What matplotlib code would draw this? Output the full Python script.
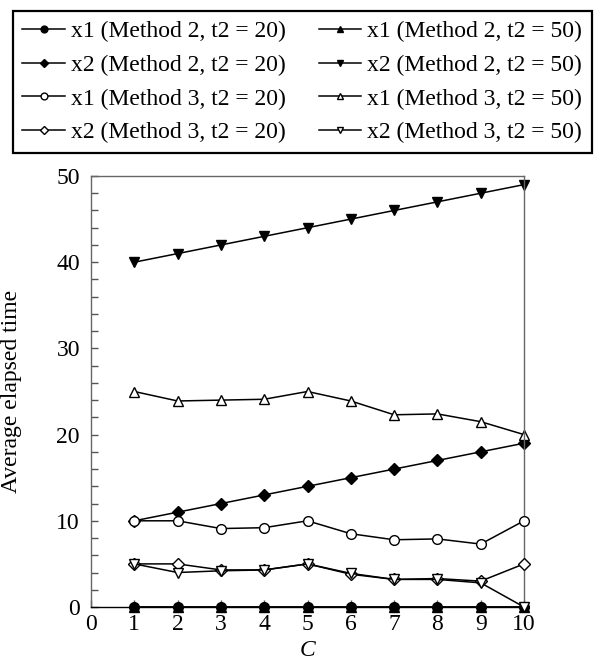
import numpy as np
import matplotlib.pyplot as plt

# =========================
# Data
# =========================
C = [1, 2, 3, 4, 5, 6, 7, 8, 9, 10]

x1_m2_t20 = [0, 0, 0, 0, 0, 0, 0, 0, 0, 0]
x2_m2_t20 = [10, 11, 12, 13, 14, 15, 16, 17, 18, 19]
x1_m3_t20 = [10, 10, 9.1, 9.2, 10, 8.5, 7.8, 7.9, 7.3, 10]
x2_m3_t20 = [5, 5, 4.3, 4.3, 5, 3.8, 3.2, 3.3, 3.0, 5]

x1_m2_t50 = [0, 0, 0, 0, 0, 0, 0, 0, 0, 0]
x2_m2_t50 = [40, 41, 42, 43, 44, 45, 46, 47, 48, 49]
x1_m3_t50 = [25, 23.9, 24.0, 24.1, 25, 23.9, 22.3, 22.4, 21.5, 20]
x2_m3_t50 = [5, 4.0, 4.2, 4.3, 5, 3.9, 3.2, 3.2, 2.8, 0]

labels = [
    "x1 (Method 2, t2 = 20)",
    "x2 (Method 2, t2 = 20)",
    "x1 (Method 3, t2 = 20)",
    "x2 (Method 3, t2 = 20)",
    "x1 (Method 2, t2 = 50)",
    "x2 (Method 2, t2 = 50)",
    "x1 (Method 3, t2 = 50)",
    "x2 (Method 3, t2 = 50)",
]

plt.rcParams['font.family'] = ['Liberation Serif', 'DejaVu Serif']
plt.rcParams['font.size'] = 17

fig = plt.figure(figsize=(6.01, 6.61), dpi=100)
ax = fig.add_axes([91/601, 1-607/661, (524-91)/601, (607-176)/661])

# (values, marker, face colour, zorder)
series = [
    (x1_m2_t20, 'o', 'black', 3),
    (x2_m2_t20, 'D', 'black', 2),
    (x1_m3_t20, 'o', 'white', 4),
    (x2_m3_t20, 'D', 'white', 4),
    (x1_m2_t50, '^', 'black', 1),
    (x2_m2_t50, 'v', 'black', 2),
    (x1_m3_t50, '^', 'white', 2),
    (x2_m3_t50, 'v', 'white', 5),
]

handles = []
for (ys, mk, fc, z), lab in zip(series, labels):
    ms = 7 if mk == 'o' else (6 if mk == 'D' else 7)
    h, = ax.plot(C, ys, marker=mk, color='black', mfc=fc, mec='black',
                 mew=1.0, ms=ms, lw=1.1, label=lab, zorder=z,
                 clip_on=False)
    handles.append(h)

ax.set_xlim(0, 10)
ax.set_ylim(0, 50)
ax.set_xticks(range(0, 11))
ax.set_yticks(range(0, 51, 10))
ax.set_yticks(range(0, 51, 2), minor=True)
ax.tick_params(axis='both', which='both', direction='in', top=False, right=False,
               color='#555555', width=1)
ax.tick_params(axis='y', which='major', length=5, pad=8)
ax.tick_params(axis='y', which='minor', length=5)
ax.tick_params(axis='x', which='major', length=5, pad=5)
for s in ax.spines.values():
    s.set_color('#666666')
    s.set_linewidth(1.0)
ax.spines['bottom'].set_color('black')

ax.set_xlabel("C", style='italic', labelpad=4)
fig.text(1/601, 0.5*(2-176/661-607/661), "Average elapsed time",
         rotation=90, ha='left', va='center', fontsize=17)

leg = fig.legend(handles=handles, loc='upper left',
                 bbox_to_anchor=(13/601, 1-11/661), ncol=2,
                 frameon=True, fancybox=False, framealpha=1,
                 edgecolor='black', borderaxespad=0, borderpad=0.4,
                 handlelength=1.8, handletextpad=0.25, columnspacing=1.4,
                 labelspacing=0.52, markerscale=0.7, fontsize=17)
leg.get_frame().set_linewidth(1.6)

fig.savefig("out.png", dpi=100)
